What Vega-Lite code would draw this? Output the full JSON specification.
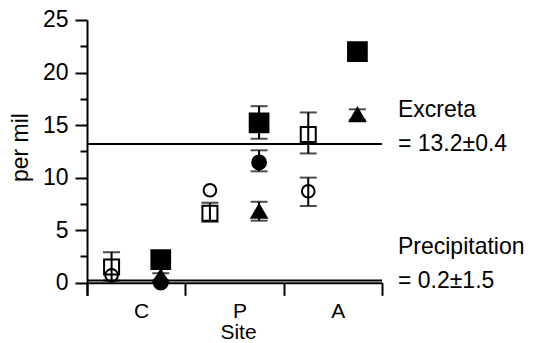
{
  "$schema": "https://vega.github.io/schema/vega-lite/v6.json",
  "width": 295,
  "height": 275.3,
  "autosize": "none",
  "padding": {"left": 87, "top": 20, "right": 151, "bottom": 48},
  "background": "white",
  "config": {
    "font": "Liberation Sans",
    "view": {"stroke": null},
    "axis": {
      "domainColor": "black",
      "domainWidth": 2,
      "tickColor": "black",
      "tickWidth": 2,
      "labelColor": "black",
      "titleColor": "black",
      "labelFontSize": 23,
      "titleFontSize": 23,
      "titleFontWeight": "normal",
      "grid": false
    }
  },
  "datasets": {
    "points": [
      {"site": "C", "set": "1", "series": "s1", "value": 1.5, "lo": 0.2, "hi": 2.9},
      {"site": "C", "set": "1", "series": "s2", "value": 0.7},
      {"site": "C", "set": "2", "series": "s5", "value": 0.6, "lo": 0.2, "hi": 0.9},
      {"site": "C", "set": "2", "series": "s3", "value": 2.2},
      {"site": "C", "set": "2", "series": "s4", "value": 0.0},
      {"site": "P", "set": "1", "series": "s1", "value": 6.6, "lo": 5.8, "hi": 7.6},
      {"site": "P", "set": "1", "series": "s2", "value": 8.8},
      {"site": "P", "set": "2", "series": "s3", "value": 15.2, "lo": 13.7, "hi": 16.8},
      {"site": "P", "set": "2", "series": "s4", "value": 11.45, "lo": 10.6, "hi": 12.6},
      {"site": "P", "set": "2", "series": "s5", "value": 6.8, "lo": 5.9, "hi": 7.7},
      {"site": "A", "set": "1", "series": "s1", "value": 14.1, "lo": 12.3, "hi": 16.2},
      {"site": "A", "set": "1", "series": "s2", "value": 8.7, "lo": 7.3, "hi": 10.0},
      {"site": "A", "set": "2", "series": "s3", "value": 22.0},
      {"site": "A", "set": "2", "series": "s5", "value": 16.0, "lo": 15.5, "hi": 16.5}
    ],
    "lines": [
      {"name": "Excreta", "value": 13.2, "label": ["Excreta", "= 13.2±0.4"]},
      {"name": "Precipitation", "value": 0.2, "label": ["Precipitation", "= 0.2±1.5"]}
    ]
  },
  "encoding": {
    "x": {
      "field": "site",
      "type": "nominal",
      "sort": ["C", "P", "A"],
      "scale": {"domain": ["C", "P", "A"], "paddingInner": 0, "paddingOuter": 0},
      "axis": {
        "title": "Site",
        "labelAngle": 0,
        "labelFontSize": 21,
        "titleFontSize": 21,
        "offset": -12.6,
        "tickSize": 12.6,
        "tickBand": "extent",
        "labelPadding": 5,
        "labelOffset": 5,
        "titlePadding": 0.5,
        "titleX": 151
      }
    },
    "y": {
      "field": "value",
      "type": "quantitative",
      "scale": {"domain": [-1.2, 25], "nice": false, "zero": false},
      "axis": {
        "title": "per mil",
        "values": [0, 2.5, 5, 7.5, 10, 12.5, 15, 17.5, 20, 22.5, 25],
        "labelExpr": "datum.value % 5 === 0 ? datum.label : ''",
        "tickSize": {"condition": {"test": "datum.value % 5 === 0", "value": 12}, "value": 7},
        "labelPadding": 7,
        "titlePadding": 10,
        "titleY": 127
      }
    }
  },
  "layer": [
    {
      "data": {"name": "lines"},
      "mark": {"type": "rule", "color": "black", "strokeWidth": 2},
      "encoding": {"x": null, "y": {"field": "value", "type": "quantitative"}}
    },
    {
      "data": {"name": "points"},
      "transform": [{"filter": "isValid(datum.lo)"}],
      "mark": {"type": "rule", "color": "black", "strokeWidth": 2},
      "encoding": {
        "xOffset": {"field": "set", "type": "nominal", "scale": {"domain": ["1", "2"], "paddingInner": 0, "paddingOuter": 0}},
        "y": {"field": "lo", "type": "quantitative"},
        "y2": {"field": "hi"}
      }
    },
    {
      "data": {"name": "points"},
      "transform": [{"filter": "isValid(datum.lo)"}],
      "mark": {"type": "tick", "color": "black", "thickness": 2, "size": 17},
      "encoding": {
        "xOffset": {"field": "set", "type": "nominal", "scale": {"domain": ["1", "2"], "paddingInner": 0, "paddingOuter": 0}},
        "y": {"field": "lo", "type": "quantitative"}
      }
    },
    {
      "data": {"name": "points"},
      "transform": [{"filter": "isValid(datum.hi)"}],
      "mark": {"type": "tick", "color": "black", "thickness": 2, "size": 17},
      "encoding": {
        "xOffset": {"field": "set", "type": "nominal", "scale": {"domain": ["1", "2"], "paddingInner": 0, "paddingOuter": 0}},
        "y": {"field": "hi", "type": "quantitative"}
      }
    },
    {
      "data": {"name": "points"},
      "mark": {"type": "point", "stroke": "black", "strokeWidth": 2, "opacity": 1},
      "encoding": {
        "xOffset": {"field": "set", "type": "nominal", "scale": {"domain": ["1", "2"], "paddingInner": 0, "paddingOuter": 0}},
        "shape": {
          "field": "series", "type": "nominal", "legend": null,
          "scale": {"domain": ["s1", "s2", "s3", "s4", "s5"], "range": ["square", "circle", "square", "circle", "triangle-up"]}
        },
        "fill": {
          "field": "series", "type": "nominal", "legend": null,
          "scale": {"domain": ["s1", "s2", "s3", "s4", "s5"], "range": ["transparent", "transparent", "black", "black", "black"]}
        },
        "size": {
          "field": "series", "type": "nominal", "legend": null,
          "scale": {"type": "ordinal", "domain": ["s1", "s2", "s3", "s4", "s5"], "range": [225, 160, 350, 190, 230]}
        }
      }
    },
    {
      "data": {"name": "lines"},
      "mark": {"type": "text", "align": "left", "baseline": "alphabetic", "dx": 16, "dy": -27, "lineHeight": 34.5, "fontSize": 23, "color": "black"},
      "encoding": {
        "x": {"datum": "A", "bandPosition": 1},
        "y": {"field": "value", "type": "quantitative"},
        "text": {"field": "label"}
      }
    }
  ]
}
